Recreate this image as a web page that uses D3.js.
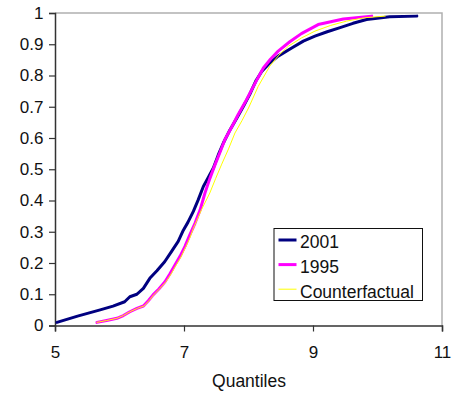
<!DOCTYPE html>
<html>
<head>
<meta charset="utf-8">
<script src="https://cdn.jsdelivr.net/npm/d3@7"></script>
<style>
  html, body { margin: 0; padding: 0; background: #fff; }
  svg { display: block; font-family: Arial, "Liberation Sans", sans-serif; }
</style>
</head>
<body>
<svg id="chart" width="453" height="395"></svg>
<script>
// Cumulative distributions over quantiles: [quantile, cumulative share]
const series2001 = [
  [5.03, 0.01], [5.35, 0.03], [5.70, 0.05], [5.90, 0.062], [6.08, 0.076], [6.16, 0.092],
  [6.27, 0.10], [6.37, 0.119], [6.47, 0.151], [6.58, 0.175], [6.70, 0.204], [6.80, 0.235],
  [6.91, 0.269], [6.99, 0.305], [7.06, 0.33], [7.145, 0.365], [7.22, 0.402], [7.30, 0.445],
  [7.38, 0.475], [7.455, 0.504], [7.53, 0.545], [7.61, 0.584], [7.71, 0.625], [7.82, 0.664],
  [7.93, 0.705], [8.02, 0.74], [8.12, 0.785], [8.205, 0.813], [8.33, 0.84], [8.46, 0.862],
  [8.67, 0.888], [8.85, 0.91], [9.03, 0.926], [9.22, 0.94], [9.42, 0.953], [9.62, 0.967],
  [9.83, 0.979], [10.19, 0.988], [10.61, 0.99]
];

const series1995 = [
  [5.65, 0.01], [5.80, 0.016], [5.96, 0.023], [6.06, 0.032], [6.16, 0.044], [6.27, 0.055],
  [6.37, 0.0625], [6.45, 0.08], [6.52, 0.098], [6.61, 0.117], [6.705, 0.14], [6.78, 0.165],
  [6.86, 0.194], [6.94, 0.222], [7.015, 0.253], [7.09, 0.29], [7.17, 0.327], [7.25, 0.37],
  [7.325, 0.424], [7.40, 0.47], [7.48, 0.514], [7.56, 0.555], [7.635, 0.595], [7.74, 0.635],
  [7.84, 0.675], [7.95, 0.715], [8.05, 0.755], [8.14, 0.79], [8.23, 0.824], [8.34, 0.852],
  [8.46, 0.878], [8.64, 0.908], [8.82, 0.934], [9.08, 0.963], [9.47, 0.981], [9.91, 0.99]
];

const seriesCounterfactual = [
  [5.65, 0.01], [5.80, 0.016], [5.96, 0.023], [6.06, 0.032], [6.16, 0.044], [6.28, 0.055],
  [6.38, 0.0625], [6.46, 0.08], [6.53, 0.098], [6.62, 0.117], [6.72, 0.14], [6.80, 0.165],
  [6.88, 0.194], [6.96, 0.222], [7.03, 0.253], [7.09, 0.28], [7.145, 0.311], [7.27, 0.37],
  [7.40, 0.424], [7.49, 0.47], [7.58, 0.514], [7.69, 0.565], [7.79, 0.616], [7.90, 0.656],
  [8.0, 0.696], [8.07, 0.728], [8.15, 0.765], [8.33, 0.83], [8.47, 0.865], [8.62, 0.894],
  [8.82, 0.92], [9.03, 0.942], [9.27, 0.96], [9.52, 0.974], [9.80, 0.985], [10.12, 0.99]
];

const xTicks = [5, 7, 9, 11];
const yTicks = [0, 0.1, 0.2, 0.3, 0.4, 0.5, 0.6, 0.7, 0.8, 0.9, 1];
const xTitle = "Quantiles";

const seriesList = [
  { name: "2001", data: series2001, color: "#000080", width: 3 },
  { name: "1995", data: series1995, color: "#ff00ff", width: 3 },
  { name: "Counterfactual", data: seriesCounterfactual, color: "#ffff00", width: 1 }
];

const svg = d3.select("#chart");
const plot = { left: 55, right: 442, top: 13, bottom: 325.5 };

const x = d3.scaleLinear().domain([5, 11]).range([plot.left, plot.right]);
const y = d3.scaleLinear().domain([0, 1]).range([plot.bottom, plot.top]);

// Plot frame: grey top and right edges
svg.append("path")
  .attr("d", `M${plot.left},${plot.top}H${plot.right}V${plot.bottom}`)
  .attr("fill", "none")
  .attr("stroke", "#b0b0b0")
  .attr("stroke-width", 1.5);

// Y axis
const yAxis = svg.append("g")
  .attr("transform", `translate(${plot.left},0)`)
  .call(d3.axisLeft(y).tickValues(yTicks).tickSize(6).tickPadding(5.5)
    .tickFormat(d => d === 0 || d === 1 ? String(d) : d3.format(".1f")(d)));

// X axis
const xAxis = svg.append("g")
  .attr("transform", `translate(0,${plot.bottom})`)
  .call(d3.axisBottom(x).tickValues(xTicks).tickSize(6).tickPadding(14.5)
    .tickFormat(d3.format("d")));

[yAxis, xAxis].forEach(g => {
  g.select(".domain").attr("stroke", "#333").attr("stroke-width", 1.5);
  g.selectAll(".tick line").attr("stroke", "#333").attr("stroke-width", 1.2);
  g.selectAll(".tick text")
    .attr("fill", "#111")
    .style("font-size", "17px")
    .style("font-family", "Arial, 'Liberation Sans', sans-serif");
});

// Curves, drawn in series order so later series sit on top
const line = d3.line().x(d => x(d[0])).y(d => y(d[1]));
seriesList.forEach(s => {
  svg.append("path")
    .datum(s.data)
    .attr("d", line)
    .attr("fill", "none")
    .attr("stroke", s.color)
    .attr("stroke-width", s.width)
    .attr("stroke-linejoin", "round")
    .attr("stroke-linecap", "round");
});

// X axis title
svg.append("text")
  .attr("x", 249)
  .attr("y", 387)
  .attr("text-anchor", "middle")
  .attr("fill", "#111")
  .style("font-size", "17.5px")
  .text(xTitle);

// Legend
const legend = svg.append("g").attr("transform", "translate(274,228.5)");
legend.append("rect")
  .attr("width", 148.5).attr("height", 72)
  .attr("fill", "#fff").attr("stroke", "#111").attr("stroke-width", 1);
seriesList.forEach((s, i) => {
  const cy = 11.5 + i * 24.6;
  legend.append("line")
    .attr("x1", 4.5).attr("x2", 22.5).attr("y1", cy).attr("y2", cy)
    .attr("stroke", s.color).attr("stroke-width", s.width === 1 ? 1 : 3);
  legend.append("text")
    .attr("x", 26).attr("y", cy + 8.3)
    .attr("fill", "#111")
    .style("font-size", "17.5px")
    .text(s.name);
});
</script>
</body>
</html>
